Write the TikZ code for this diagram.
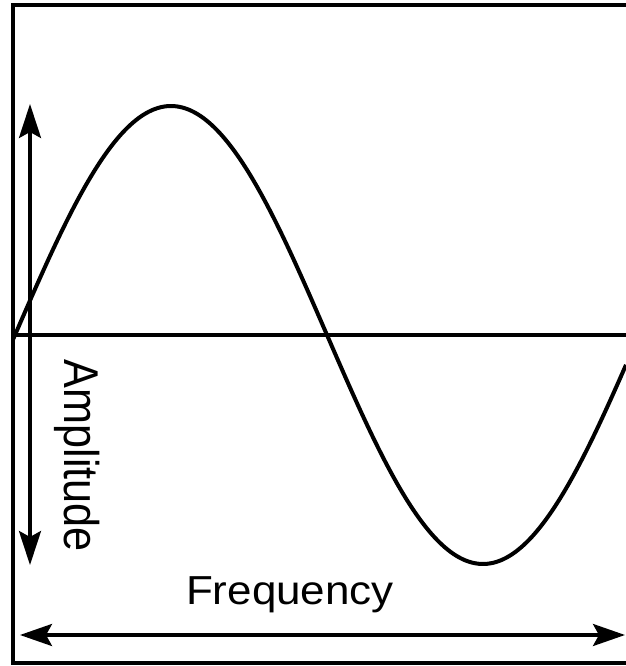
\documentclass[tikz,border=0pt]{standalone}
\usepackage{fontspec}
\setmainfont{Liberation Sans}
\usetikzlibrary{arrows.meta}

\begin{document}
\begin{tikzpicture}[x=0.5pt,y=0.5pt]
\def\xmin{13}
\def\xmax{626}
\def\ymin{3}
\def\ymax{661}
\def\yaxis{331}
\def\amp{229}
\def\half{312}
\useasboundingbox (0,0) rectangle (626,666);
% frame, open on the right
\draw[line width=2pt] (\xmax,\ymax) -- (\xmin,\ymax) -- (\xmin,\ymin) -- (\xmax,\ymin);
\draw[line width=2pt] (\xmin,\yaxis) -- (\xmax,\yaxis);
\draw[line width=2pt, domain=\xmin:\xmax, samples=200, smooth] plot (\x, {\yaxis + \amp*sin((\x-15)/\half*180)});
% arrows
\coordinate (atop) at (30,562);
\coordinate (abot) at (30,101);
\coordinate (fleft) at (20,31);
\coordinate (fright) at (625,31);
\draw[{Stealth[length=17pt,width=11pt,inset=3pt]}-{Stealth[length=17pt,width=11pt,inset=3pt]}, line width=1.7pt] (abot) -- (atop);
\draw[{Stealth[length=16pt,width=11pt,inset=3pt]}-{Stealth[length=16pt,width=11pt,inset=3pt]}, line width=1.7pt] (fleft) -- (fright);
% labels
\node[font=\fontsize{22}{26}\selectfont, anchor=base, yscale=0.92, inner sep=0] (freq) at (290,62) {Frequency};
\node[font=\fontsize{21.6}{26}\selectfont, rotate=-90, yscale=1.13, anchor=base, inner sep=0] (ampl) at (65,210) {Amplitude};
\end{tikzpicture}
\end{document}
